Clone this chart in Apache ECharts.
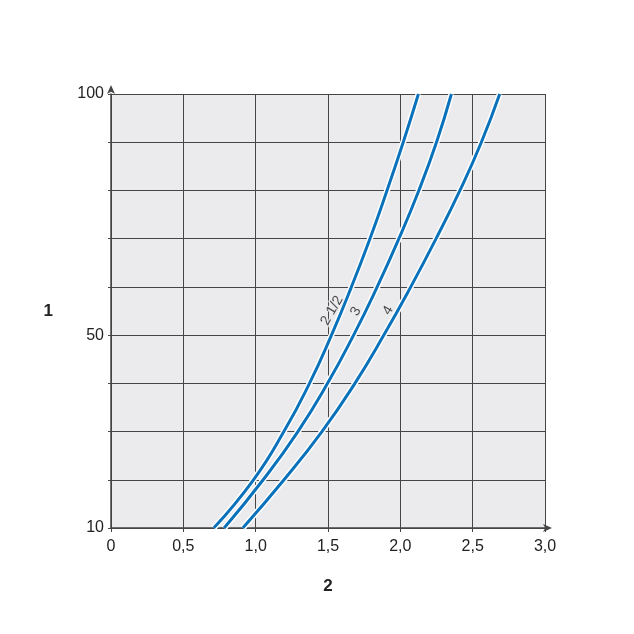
<!DOCTYPE html>
<html>
<head>
<meta charset="utf-8">
<script src="https://cdn.jsdelivr.net/npm/echarts@6/dist/echarts.min.js"></script>
<style>
html,body{margin:0;padding:0;background:#fff;}
#c{width:634px;height:634px;}
</style>
</head>
<body>
<div id="c"></div>
<script>
// y values (axis 1) at which curves were read
const yLevels = [10, 20, 30, 40, 50, 60, 70, 80, 90, 100];
// x values (axis 2) for each curve
const curve2half = [0.71, 0.985, 1.195, 1.372, 1.524, 1.662, 1.790, 1.908, 2.020, 2.125];
const curve3 = [0.782, 1.052, 1.292, 1.497, 1.677, 1.840, 1.990, 2.128, 2.250, 2.353];
const curve4 = [0.911, 1.196, 1.458, 1.686, 1.886, 2.072, 2.247, 2.412, 2.560, 2.687];
const curveNames = ['2 1/2', '3', '4'];
// curve label anchors (data units)
const labelX = [1.527, 1.693, 1.916];
const labelY = [55.1, 54.9, 55.1];
// axes
const xMin = 0, xMax = 3, xStep = 0.5;
const yMin = 10, yMax = 100, yStep = 10;
const yShownLabels = [10, 50, 100];
const xAxisName = '2';
const yAxisName = '1';

const curves = [curve2half, curve3, curve4];
const BLUE = '#0a72ba';
const TEXT = '#222222';
const GRID = '#454545';
const FONT = 'Liberation Sans, Arial, sans-serif';

const series = [];
curves.forEach((xs, i) => {
  const data = xs.map((x, k) => [x, yLevels[k]]);
  series.push({
    type: 'line', data, smooth: 0.5, symbol: 'none', silent: true, z: 3,
    lineStyle: { color: '#ffffff', width: 6 }
  });
  series.push({
    type: 'line', data, smooth: 0.5, symbol: 'none', silent: true, z: 4,
    lineStyle: { color: BLUE, width: 3 }
  });
});
series.push({
  type: 'scatter', symbolSize: 0, z: 6, silent: true,
  data: labelX.map((x, i) => ({ value: [x, labelY[i]], name: curveNames[i] })),
  label: {
    show: true, position: 'inside', formatter: p => p.name, rotate: 60,
    fontFamily: FONT, fontSize: 14, color: TEXT,
    textBorderColor: '#ebebee', textBorderWidth: 3
  }
});

const chart = echarts.init(document.getElementById('c'), null, { renderer: 'canvas' });
chart.setOption({
  animation: false,
  backgroundColor: '#ffffff',
  grid: { left: 111, top: 94, right: 89, bottom: 106, show: true,
          backgroundColor: '#ebebee', borderWidth: 0 },
  xAxis: {
    type: 'value', min: xMin, max: xMax, interval: xStep,
    name: xAxisName, nameLocation: 'middle', nameGap: 50,
    nameTextStyle: { fontFamily: FONT, fontSize: 17, fontWeight: 'bold', color: TEXT },
    axisLine: { show: true, onZero: false, lineStyle: { color: GRID, width: 1.5 },
                symbol: ['none', 'arrow'], symbolSize: [6, 9], symbolOffset: [0, 7] },
    axisTick: { show: true, length: 4, lineStyle: { color: GRID } },
    axisLabel: { margin: 11, fontFamily: FONT, fontSize: 16, color: TEXT,
                 formatter: v => v === 0 ? '0' : v.toFixed(1).replace('.', ',') },
    splitLine: { show: true, lineStyle: { color: GRID, width: 1 } }
  },
  yAxis: {
    type: 'value', min: yMin, max: yMax, interval: yStep,
    name: yAxisName, nameLocation: 'middle', nameGap: 58, nameRotate: 0,
    nameTextStyle: { fontFamily: FONT, fontSize: 17, fontWeight: 'bold', color: TEXT,
                     padding: [6, 0, 0, 0] },
    axisLine: { show: true, onZero: false, lineStyle: { color: GRID, width: 1.5 },
                symbol: ['none', 'arrow'], symbolSize: [6, 9], symbolOffset: [0, 9] },
    axisTick: { show: true, length: 3, lineStyle: { color: GRID } },
    axisLabel: { margin: 7, fontFamily: FONT, fontSize: 16, color: TEXT,
                 padding: [5, 0, 0, 0],
                 formatter: v => yShownLabels.includes(v) ? String(v) : '' },
    splitLine: { show: true, lineStyle: { color: GRID, width: 1 } }
  },
  series
});
</script>
</body>
</html>
